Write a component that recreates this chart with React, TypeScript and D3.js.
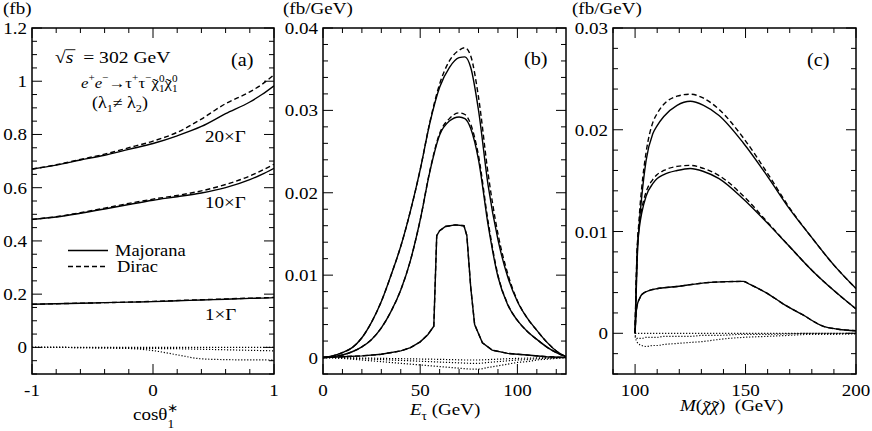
import { useEffect, useRef } from 'react';
import * as d3 from 'd3';

// panel (a): cross section vs cos(theta*)
const cosTheta = [-1, -0.8, -0.6, -0.4, -0.2, 0, 0.2, 0.4, 0.6, 0.8, 0.9, 1];
const a20Maj = [0.670, 0.685, 0.704, 0.722, 0.744, 0.766, 0.795, 0.830, 0.878, 0.922, 0.950, 0.983];
const a20Dir = [0.670, 0.686, 0.706, 0.726, 0.750, 0.775, 0.808, 0.858, 0.916, 0.960, 0.988, 1.024];
const a10Maj = [0.481, 0.490, 0.504, 0.520, 0.537, 0.553, 0.566, 0.580, 0.600, 0.630, 0.650, 0.673];
const a10Dir = [0.481, 0.491, 0.506, 0.523, 0.541, 0.557, 0.571, 0.588, 0.612, 0.644, 0.665, 0.688];
const a1Maj = [0.162, 0.164, 0.166, 0.168, 0.170, 0.172, 0.175, 0.178, 0.181, 0.184, 0.185, 0.187];
const a1Dir = [0.162, 0.164, 0.166, 0.168, 0.170, 0.173, 0.176, 0.179, 0.182, 0.185, 0.186, 0.188];
const aDiff1 = [0, 0, 0, 0, 0, 0, 0, 0, 0, 0, 0, 0];
const aDiff10 = [0, 0, -0.001, -0.002, -0.003, -0.004, -0.005, -0.007, -0.009, -0.011, -0.012, -0.013];
const aDiff20 = [0, 0, -0.001, -0.002, -0.004, -0.012, -0.028, -0.043, -0.046, -0.047, -0.047, -0.048];

// panel (b): tau energy distribution
const eTau = [0, 5, 10, 15, 20, 25, 30, 35, 40, 45, 50, 55, 60, 65, 70, 73, 76, 80, 85, 90, 95, 100, 105, 110, 115, 120, 125];
const b20Maj = [0, 0.0002, 0.0006, 0.0012, 0.0024, 0.0043, 0.0068, 0.0100, 0.0135, 0.0178, 0.0228, 0.0285, 0.0328, 0.0352, 0.0364, 0.0365, 0.0352, 0.0300, 0.0208, 0.0143, 0.0098, 0.0068, 0.0048, 0.0033, 0.0019, 0.0008, 0.0001];
const b20Dir = [0, 0.0002, 0.0006, 0.0012, 0.0024, 0.0043, 0.0068, 0.0100, 0.0135, 0.0178, 0.0228, 0.0286, 0.0332, 0.0360, 0.0373, 0.0376, 0.0366, 0.0316, 0.0222, 0.0150, 0.0102, 0.0069, 0.0048, 0.0033, 0.0019, 0.0008, 0.0001];
const b10Maj = [0, 0.0001, 0.0003, 0.0007, 0.0013, 0.0022, 0.0036, 0.0056, 0.0082, 0.0118, 0.0167, 0.0226, 0.0270, 0.0287, 0.0292, 0.0290, 0.0278, 0.0240, 0.0160, 0.0098, 0.0064, 0.0045, 0.0032, 0.0022, 0.0013, 0.0006, 0.0001];
const b10Dir = [0, 0.0001, 0.0003, 0.0007, 0.0013, 0.0022, 0.0036, 0.0056, 0.0082, 0.0118, 0.0167, 0.0227, 0.0272, 0.0290, 0.0297, 0.0295, 0.0283, 0.0245, 0.0164, 0.0100, 0.0065, 0.0045, 0.0032, 0.0022, 0.0013, 0.0006, 0.0001];
const eTauNarrow = [0, 10, 20, 30, 40, 45, 50, 54, 57, 58.5, 60, 63, 68, 72.5, 74, 76, 78, 82, 87, 95, 105, 115, 125];
const b1Maj = [0, 0.0001, 0.0002, 0.0004, 0.0008, 0.0012, 0.0019, 0.0028, 0.0038, 0.0148, 0.0154, 0.0159, 0.0161, 0.0160, 0.0148, 0.0085, 0.0040, 0.0018, 0.0009, 0.0005, 0.0003, 0.0001, 0];
const bDiff20 = [0, -0.00005, -0.0001, -0.0002, -0.0003, -0.0004, -0.0005, -0.0006, -0.0007, -0.0008, -0.0009, -0.0010, -0.0011, -0.0012, -0.0013, -0.00135, -0.0014, -0.0014, -0.0012, -0.0010, -0.0008, -0.0006, -0.0005, -0.0003, -0.0002, -0.0001, 0];
const bDiff10 = [0, -0.00002, -0.00005, -0.0001, -0.00015, -0.0002, -0.00025, -0.0003, -0.00035, -0.0004, -0.00045, -0.0005, -0.00055, -0.0006, -0.00065, -0.00068, -0.0007, -0.0007, -0.0006, -0.0005, -0.0004, -0.0003, -0.00025, -0.00015, -0.0001, -0.00005, 0];
const bDiff1 = [0, 0, -0.00002, -0.00004, -0.00006, -0.00008, -0.0001, -0.00012, -0.00014, -0.00016, -0.00018, -0.0002, -0.00022, -0.00025, -0.00028, -0.0003, -0.0003, -0.0003, -0.00025, -0.0002, -0.00015, -0.0001, -0.00008, -0.00005, -0.00003, -0.00001, 0];

// panel (c): invariant mass of the neutralino pair
const mPair = [100, 100.5, 101, 102, 103, 105, 108, 110, 113, 119, 125, 131, 138, 149, 160, 170, 180, 190, 200];
const c20Maj = [0, 0.004, 0.0075, 0.011, 0.0134, 0.017, 0.0196, 0.0204, 0.0213, 0.0224, 0.0228, 0.0224, 0.0214, 0.0187, 0.0154, 0.0122, 0.0094, 0.0067, 0.0044];
const c20Dir = [0, 0.0045, 0.008, 0.0118, 0.0143, 0.0178, 0.0207, 0.0216, 0.0225, 0.0233, 0.0235, 0.0231, 0.0220, 0.0192, 0.0157, 0.0123, 0.0094, 0.0067, 0.0044];
const c10Maj = [0, 0.005, 0.0083, 0.0105, 0.0118, 0.0135, 0.0147, 0.0152, 0.0156, 0.0160, 0.0162, 0.0159, 0.0152, 0.0132, 0.0108, 0.0085, 0.0062, 0.0042, 0.0024];
const c10Dir = [0, 0.0052, 0.0086, 0.0109, 0.0122, 0.0139, 0.0151, 0.0156, 0.0160, 0.0164, 0.0165, 0.0162, 0.0155, 0.0135, 0.0109, 0.0085, 0.0062, 0.0042, 0.0024];
const mPairLow = [100, 100.4, 100.8, 102, 103, 108, 119, 134, 149, 152, 160, 167, 176, 185, 192, 200];
const c1Maj = [0, 0.0018, 0.0026, 0.0034, 0.0038, 0.0043, 0.0046, 0.0050, 0.0051, 0.0048, 0.0039, 0.0029, 0.0018, 0.0007, 0.0004, 0.00025];
const cDiff20 = [-0.0003, -0.0007, -0.0009, -0.0011, -0.0012, -0.0013, -0.0012, -0.0012, -0.0011, -0.0010, -0.0009, -0.0008, -0.0006, -0.0004, -0.0003, -0.0002, -0.0001, -0.0001, -0.00005];
const cDiff10 = [-0.0002, -0.0004, -0.0005, -0.0005, -0.0005, -0.0004, -0.0004, -0.0004, -0.0003, -0.0003, -0.0003, -0.0002, -0.0002, -0.0001, -0.0001, -0.00005, 0, 0, 0];
const cDiff1 = [0, 0, 0, 0, 0, 0, 0, 0, 0, 0, 0, 0, 0, 0, 0, 0, 0, 0, 0];

// tick labels
const aXTicks = [-1, 0, 1];
const aYTicks = [0, 0.2, 0.4, 0.6, 0.8, 1, 1.2];
const bXTicks = [0, 50, 100];
const bYTicks = [0, 0.01, 0.02, 0.03, 0.04];
const cXTicks = [100, 150, 200];
const cYTicks = [0, 0.01, 0.02, 0.03];

const FONT = '"Liberation Serif", "Times New Roman", serif';
const SX = 1.12;

// one piece of a typeset label; `stack` puts it at the same x as the piece before
type Piece = { t: string; it?: boolean; size?: number; dy?: number; stack?: boolean; tilde?: boolean; over?: boolean };

const App = () => {
    const svgRef = useRef<SVGSVGElement>(null);

    useEffect(() => {
        if (!svgRef.current) return;
        const svg = d3.select(svgRef.current);
        svg.selectAll('*').remove();

        const top = 28;
        const bottom = 374;

        const addText = (x: number, y: number, s: string, size: number, anchor = 'start', it = false) =>
            svg.append('text')
                .attr('transform', `translate(${x},${y}) scale(${SX},1)`)
                .attr('text-anchor', anchor)
                .attr('font-family', FONT)
                .attr('font-size', size)
                .attr('font-style', it ? 'italic' : null)
                .attr('fill', '#000')
                .style('white-space', 'pre')
                .style('font-variant-emoji', 'text')
                .text(s);

        // lays pieces out left to right, measuring each one
        const run = (x0: number, y0: number, pieces: Piece[], size = 17) => {
            let pen = x0;
            let lastStart = x0;
            pieces.forEach(p => {
                const fs = p.size ?? size;
                const sx = p.stack ? lastStart : pen;
                const by = y0 + (p.dy ?? 0);
                const el = addText(sx, by, p.t, fs, 'start', p.it);
                const w = (el.node() as SVGTextElement).getComputedTextLength() * SX;
                if (p.tilde) {
                    addText(sx + w / 2 + (p.it ? 1 : 0), by + 1, '˜', fs, 'middle');
                }
                if (p.over) {
                    svg.append('line')
                        .attr('x1', sx).attr('x2', sx + w + 2)
                        .attr('y1', by - fs * 0.76).attr('y2', by - fs * 0.76)
                        .attr('stroke', '#000').attr('stroke-width', 0.9);
                }
                if (p.stack) {
                    pen = Math.max(pen, sx + w);
                } else {
                    lastStart = sx;
                    pen = sx + w;
                }
            });
        };

        const sameIdx = (arr: number[], v: number, step: number) => arr.some(m => Math.abs(m - v) < step * 0.01);

        const panel = (opt: {
            left: number; right: number;
            xDom: [number, number]; yDom: [number, number];
            xTicks: number[]; yTicks: number[];
            xMinor: number; yMinor: number;
            series: { xs: number[]; ys: number[]; style: 'solid' | 'dash' | 'dot'; curve?: d3.CurveFactory }[];
        }) => {
            const x = d3.scaleLinear().domain(opt.xDom).range([opt.left, opt.right]);
            const y = d3.scaleLinear().domain(opt.yDom).range([bottom, top]);
            const g = svg.append('g');

            const clipId = `clip${opt.left}`;
            g.append('clipPath').attr('id', clipId)
                .append('rect').attr('x', opt.left).attr('y', top)
                .attr('width', opt.right - opt.left).attr('height', bottom - top);

            const lines = g.append('g').attr('clip-path', `url(#${clipId})`);
            opt.series.forEach(s => {
                const line = d3.line<number>()
                    .x((_, i) => x(s.xs[i]))
                    .y(d => y(d))
                    .curve(s.curve ?? d3.curveMonotoneX);
                lines.append('path')
                    .attr('d', line(s.ys) ?? '')
                    .attr('fill', 'none')
                    .attr('stroke', '#000')
                    .attr('stroke-width', s.style === 'dot' ? 1.2 : 1.4)
                    .attr('stroke-dasharray', s.style === 'dash' ? '5,3' : s.style === 'dot' ? '1.2,1.8' : null);
            });

            const eps = 1e-9;
            const xMinors = d3.range(Math.ceil(opt.xDom[0] / opt.xMinor - eps) * opt.xMinor, opt.xDom[1] + eps, opt.xMinor);
            const yMinors = d3.range(Math.ceil(opt.yDom[0] / opt.yMinor - eps) * opt.yMinor, opt.yDom[1] + eps, opt.yMinor);
            const ticks = g.append('g').attr('stroke', '#000').attr('stroke-width', 1);
            xMinors.forEach(v => {
                const len = sameIdx(opt.xTicks, v, opt.xMinor) ? 10 : 5;
                const px = x(v);
                ticks.append('line').attr('x1', px).attr('x2', px).attr('y1', bottom).attr('y2', bottom - len);
                ticks.append('line').attr('x1', px).attr('x2', px).attr('y1', top).attr('y2', top + len);
            });
            yMinors.forEach(v => {
                const len = sameIdx(opt.yTicks, v, opt.yMinor) ? 10 : 5;
                const py = y(v);
                ticks.append('line').attr('x1', opt.left).attr('x2', opt.left + len).attr('y1', py).attr('y2', py);
                ticks.append('line').attr('x1', opt.right).attr('x2', opt.right - len).attr('y1', py).attr('y2', py);
            });

            g.append('rect')
                .attr('x', opt.left).attr('y', top)
                .attr('width', opt.right - opt.left).attr('height', bottom - top)
                .attr('fill', 'none').attr('stroke', '#000').attr('stroke-width', 1.5);

            opt.xTicks.forEach(v => addText(x(v), 396, String(v), 17, 'middle'));
            opt.yTicks.forEach(v => addText(opt.left - 5, y(v) + 6, String(+v.toFixed(3)), 17, 'end'));
        };

        // (a)
        panel({
            left: 32, right: 274, xDom: [-1, 1], yDom: [-0.1, 1.2],
            xTicks: aXTicks, yTicks: aYTicks, xMinor: 0.2, yMinor: 0.05,
            series: [
                { xs: cosTheta, ys: a20Dir, style: 'dash' },
                { xs: cosTheta, ys: a20Maj, style: 'solid' },
                { xs: cosTheta, ys: a10Dir, style: 'dash' },
                { xs: cosTheta, ys: a10Maj, style: 'solid' },
                { xs: cosTheta, ys: a1Dir, style: 'dash' },
                { xs: cosTheta, ys: a1Maj, style: 'solid' },
                { xs: cosTheta, ys: aDiff1, style: 'dot' },
                { xs: cosTheta, ys: aDiff10, style: 'dot' },
                { xs: cosTheta, ys: aDiff20, style: 'dot' },
            ],
        });

        // (b)
        panel({
            left: 323, right: 566, xDom: [0, 125], yDom: [-0.002, 0.04],
            xTicks: bXTicks, yTicks: bYTicks, xMinor: 10, yMinor: 0.002,
            series: [
                { xs: eTau, ys: b20Dir, style: 'dash' },
                { xs: eTau, ys: b20Maj, style: 'solid' },
                { xs: eTau, ys: b10Dir, style: 'dash' },
                { xs: eTau, ys: b10Maj, style: 'solid' },
                { xs: eTauNarrow, ys: b1Maj, style: 'dash', curve: d3.curveLinear },
                { xs: eTauNarrow, ys: b1Maj, style: 'solid', curve: d3.curveLinear },
                { xs: eTau, ys: bDiff1, style: 'dot' },
                { xs: eTau, ys: bDiff10, style: 'dot' },
                { xs: eTau, ys: bDiff20, style: 'dot' },
            ],
        });

        // (c)
        panel({
            left: 613, right: 856, xDom: [90, 200], yDom: [-0.004, 0.03],
            xTicks: cXTicks, yTicks: cYTicks, xMinor: 10, yMinor: 0.002,
            series: [
                { xs: mPair, ys: c20Dir, style: 'dash' },
                { xs: mPair, ys: c20Maj, style: 'solid' },
                { xs: mPair, ys: c10Dir, style: 'dash' },
                { xs: mPair, ys: c10Maj, style: 'solid' },
                { xs: mPairLow, ys: c1Maj, style: 'dash' },
                { xs: mPairLow, ys: c1Maj, style: 'solid' },
                { xs: mPair, ys: cDiff1, style: 'dot', curve: d3.curveLinear },
                { xs: mPair, ys: cDiff10, style: 'dot' },
                { xs: mPair, ys: cDiff20, style: 'dot' },
            ],
        });

        // units
        addText(3, 14, '(fb)', 17);
        addText(283, 14, '(fb/GeV)', 17);
        addText(572, 14, '(fb/GeV)', 17);

        // panel letters
        addText(231, 66, '(a)', 18);
        addText(524, 65, '(b)', 18);
        addText(807, 66, '(c)', 18);

        // annotations panel (a)
        run(55, 63, [{ t: '√' }, { t: 's', it: true, over: true }, { t: '  = 302 GeV' }], 17.5);
        const sup = { size: 10, dy: -7 };
        run(81, 88, [
            { t: 'e', it: true }, { t: '+', ...sup },
            { t: 'e', it: true }, { t: '−', ...sup },
            { t: '→τ' }, { t: '+', ...sup },
            { t: 'τ' }, { t: '−', ...sup },
            { t: 'χ', tilde: true }, { t: '0', size: 10, dy: -6 }, { t: '1', size: 10, dy: 4, stack: true },
            { t: 'χ', tilde: true }, { t: '0', size: 10, dy: -6 }, { t: '1', size: 10, dy: 4, stack: true },
        ], 15);
        run(92, 108, [
            { t: '(λ' }, { t: '1', size: 11, dy: 4 }, { t: '≠ λ' }, { t: '2', size: 11, dy: 4 }, { t: ')' },
        ], 16);

        addText(205, 142, '20×Γ', 17);
        addText(205, 208, '10×Γ', 17);
        addText(205, 320, '1×Γ', 17);

        // legend
        svg.append('line').attr('x1', 68).attr('x2', 108).attr('y1', 250.5).attr('y2', 250.5)
            .attr('stroke', '#000').attr('stroke-width', 1.4);
        svg.append('line').attr('x1', 68).attr('x2', 107).attr('y1', 266.5).attr('y2', 266.5)
            .attr('stroke', '#000').attr('stroke-width', 1.4).attr('stroke-dasharray', '5,3');
        addText(115, 256, 'Majorana', 16.5);
        addText(117, 272, 'Dirac', 16.5);

        // axis titles
        run(133, 420, [{ t: 'cosθ' }, { t: '1', size: 12, dy: 8 }, { t: '∗', size: 12, dy: -8, stack: true }]);
        run(410, 415, [{ t: 'E', it: true }, { t: 'τ', size: 12, dy: 5 }, { t: ' (GeV)' }]);
        run(680, 411, [
            { t: 'M', it: true }, { t: '(' },
            { t: 'χ', it: true, tilde: true }, { t: 'χ', it: true, tilde: true },
            { t: ')  (GeV)' },
        ]);
    }, []);

    return (
        <div style={{ position: 'absolute', left: 0, top: 0, background: '#fff' }}>
            <svg ref={svgRef} width={872} height={431} style={{ display: 'block', background: '#fff' }}></svg>
        </div>
    );
};

export default App;
